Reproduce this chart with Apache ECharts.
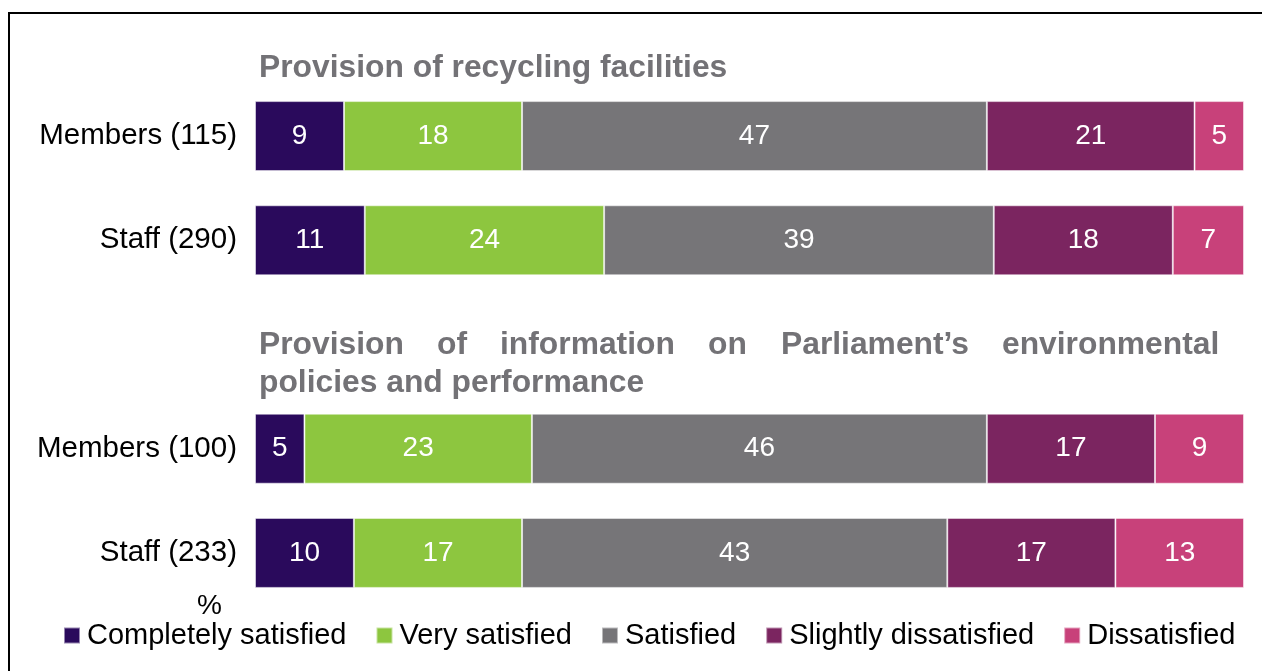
<!DOCTYPE html>
<html><head><meta charset="utf-8">
<script src="https://cdn.jsdelivr.net/npm/echarts@6/dist/echarts.min.js"></script>
<style>html,body{margin:0;padding:0;background:#fff}#c{width:1262px;height:671px}</style>
</head><body><div id="c"></div>
<script>
const categories = ['Members (115)', 'Staff (290)', '', 'Members (100)', 'Staff (233)'];
const seriesNames = ['Completely satisfied', 'Very satisfied', 'Satisfied', 'Slightly dissatisfied', 'Dissatisfied'];
const completelySatisfied = [9, 11.1, null, 5, 10];
const verySatisfied = [18, 24.2, null, 23, 17];
const satisfied = [47, 39.4, null, 46, 43];
const slightlyDissatisfied = [21, 18.1, null, 17, 17];
const dissatisfied = [5, 7.2, null, 9, 13];
const title1 = 'Provision of recycling facilities';
const title2Line1 = 'Provision of information on Parliament\u2019s environmental';
const title2Line2 = 'policies and performance';

const colors = ['#2a0a5c', '#8dc63f', '#767578', '#7b2560', '#c8417a'];
const allData = [completelySatisfied, verySatisfied, satisfied, slightlyDissatisfied, dissatisfied];
const FONT = 'Arial, "Liberation Sans", sans-serif';
const titleColor = '#737276';
const titleFont = 'bold 31.8px ' + FONT;

// justify line 1 of second title
const cv = document.createElement('canvas').getContext('2d');
cv.font = titleFont;
const words = title2Line1.split(' ');
const x0 = 259, x1 = 1219;
const widths = words.map(w => cv.measureText(w).width);
const totalW = widths.reduce((a, b) => a + b, 0);
const gap = (x1 - x0 - totalW) / (words.length - 1);
const wordEls = [];
let cx = x0;
words.forEach((w, i) => {
  wordEls.push({type: 'text', left: Math.round(cx), top: 329,
    style: {text: w, font: titleFont, fill: titleColor}});
  cx += widths[i] + gap;
});

const chart = echarts.init(document.getElementById('c'));
chart.setOption({
  animation: false,
  color: colors,
  grid: {left: 255, right: 18, top: 84, bottom: 66},
  xAxis: {type: 'value', min: 0, max: 100, show: false},
  yAxis: {type: 'category', data: categories, inverse: true,
    axisLine: {show: false}, axisTick: {show: false},
    axisLabel: {color: '#000', fontSize: 29.5, fontFamily: FONT, margin: 18}},
  legend: {left: 63, top: 621, padding: 0, itemWidth: 16, itemHeight: 16, itemGap: 29,
    icon: 'rect', textStyle: {fontSize: 29, fontFamily: FONT, color: '#000', padding: [0, 0, 0, 2]},
    data: seriesNames},
  series: seriesNames.map((n, i) => ({
    name: n, type: 'bar', stack: 'all', barWidth: 70,
    data: allData[i],
    itemStyle: {borderColor: 'rgba(255,255,255,0.5)', borderWidth: 1},
    label: {show: true, position: 'inside', color: '#fff', fontSize: 28, fontFamily: FONT,
      formatter: p => p.value == null ? '' : Math.round(p.value)}
  })),
  graphic: [
    {type: 'rect', shape: {x: 9, y: 13, width: 1300, height: 700},
      style: {fill: 'none', stroke: '#000', lineWidth: 2}, silent: true},
    {type: 'text', left: 259, top: 52, style: {text: title1, font: titleFont, fill: titleColor}},
    ...wordEls,
    {type: 'text', left: 259, top: 367, style: {text: title2Line2, font: titleFont, fill: titleColor}},
    {type: 'text', left: 197, top: 592, style: {text: '%', font: '28px ' + FONT, fill: '#000'}}
  ]
});
</script></body></html>
